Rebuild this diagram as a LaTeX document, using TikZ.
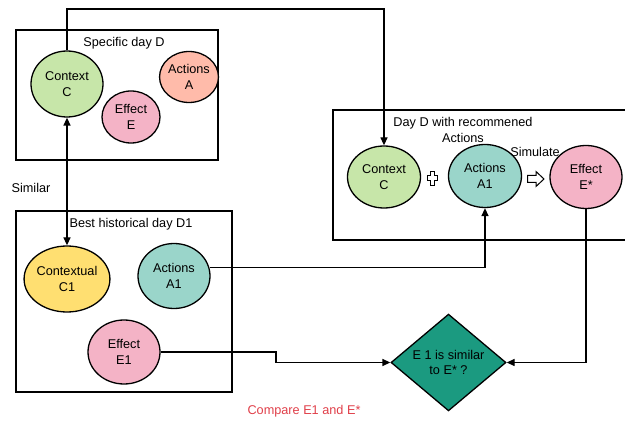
\documentclass[tikz,border=0pt]{standalone}
\usepackage{fontspec}
\setmainfont{Liberation Sans}
\usetikzlibrary{shapes.geometric,arrows.meta,calc}
\definecolor{cgreen}{HTML}{C7E6A9}
\definecolor{csalmon}{HTML}{FFBBAA}
\definecolor{cpink}{HTML}{F4B3C6}
\definecolor{cyellow}{HTML}{FFDF71}
\definecolor{cteal}{HTML}{9AD5CA}
\definecolor{cdia}{HTML}{1B9A80}
\definecolor{cred}{HTML}{E0404A}
\begin{document}
\begin{tikzpicture}[x=1pt,y=-1pt,
  every node/.style={font=\fontsize{12.7}{15.5}\selectfont},
  ell/.style={ellipse,draw,line width=1.3pt,inner sep=0pt,align=center},
  frame/.style={draw,line width=1.3pt},
  conn/.style={line width=1.3pt},
  arr/.style={conn,-{Triangle[length=8pt,width=7pt]}},
  lbl/.style={inner sep=0pt,align=center}]
\useasboundingbox (0,0) rectangle (625,422);
% frames
\draw[frame] (16,30) rectangle (218,160);
\draw[frame] (16,211) rectangle (232,392);
\draw[frame] (333,110) rectangle (640,240);
% labels
\node[lbl] (tD) at (124,43) {Specific day D};
\node[lbl] (tD1) at (131,224) {Best historical day D1};
\node[lbl] (tR) at (463,130) {Day D with recommened\\Actions};
\node[lbl] (sim) at (31,188) {Similar};
\node[lbl] (simu) at (535,152) {Simulate};
\node[lbl,text=cred] (cmp) at (304,411) {Compare E1 and E*};
% box 1
\node[ell,fill=cgreen,minimum width=72pt,minimum height=66pt] (ctx) at (67,84) {Context\\C};
\node[ell,fill=csalmon,minimum width=58pt,minimum height=51pt] (actA) at (189,77) {Actions\\A};
\node[ell,fill=cpink,minimum width=58pt,minimum height=52pt] (effE) at (131,117) {Effect\\E};
% box 2
\node[ell,fill=cyellow,minimum width=72pt,minimum height=66pt] (ctx1) at (67,279) {Contextual\\C1};
\node[ell,fill=cteal,minimum width=72pt,minimum height=65pt] (act1) at (174,276) {Actions\\A1};
\node[ell,fill=cpink,minimum width=72pt,minimum height=64pt] (eff1) at (124,352) {Effect\\E1};
% box 3
\node[ell,fill=cgreen,minimum width=73pt,minimum height=62pt] (ctxR) at (384,177) {Context\\C};
\node[ell,fill=cteal,minimum width=73pt,minimum height=63pt] (actR) at (485,176) {Actions\\A1};
\node[ell,fill=cpink,minimum width=72pt,minimum height=63pt] (effR) at (586,177) {Effect\\E*};
% diamond
\node[diamond,draw,line width=1.3pt,fill=cdia,minimum width=115pt,minimum height=87pt,inner sep=0pt,align=center] (dia) at (448.5,362.5) {E 1 is similar\\to E* ?};
% plus shape
\draw[line width=1pt,fill=white]
  (430.5,171.5) -- (434.5,171.5) -- (434.5,176) -- (437,176) -- (437,181) -- (434.5,181) -- (434.5,185.5)
  -- (430.5,185.5) -- (430.5,181) -- (427.5,181) -- (427.5,176) -- (430.5,176) -- cycle;
% block arrow
\draw[line width=1pt,fill=white]
  (527.5,175.5) -- (536,175.5) -- (536,171.5) -- (544,179) -- (536,186.5) -- (536,182.5) -- (527.5,182.5) -- cycle;
% connectors
\coordinate (topY) at (200,9);
\draw[arr] (ctx.north) |- (topY) -| (ctxR.north);
\draw[conn,{Triangle[length=8pt,width=7pt]}-{Triangle[length=8pt,width=7pt]}] (ctx.south) -- (ctx1.north);
\draw[arr] (act1.13) -| (actR.south);
\coordinate (k1) at (276,352);
\draw[arr] (eff1.east) -- (k1) |- (dia.west);
\draw[arr] (effR.south) |- (dia.east);
\end{tikzpicture}
\end{document}
